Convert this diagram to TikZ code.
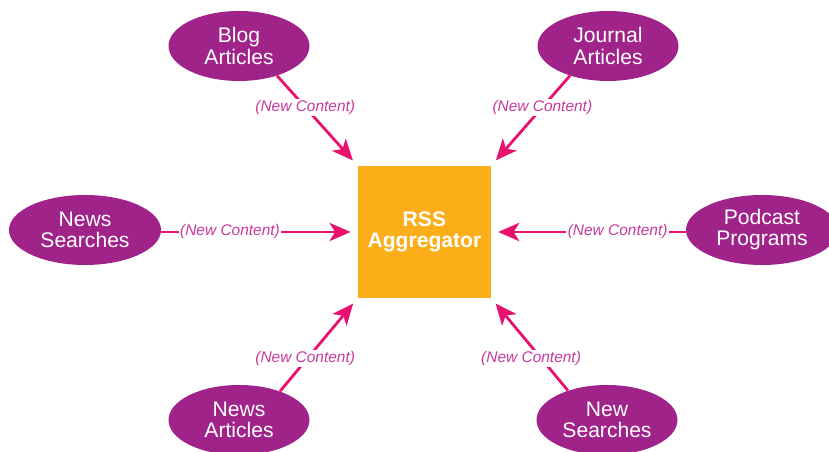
\documentclass[tikz,border=0pt]{standalone}
\usepackage{fontspec}
\setmainfont{Liberation Sans}
\usetikzlibrary{shapes.geometric,arrows.meta}
\definecolor{srcpurple}{HTML}{A0238A}
\definecolor{feedpink}{HTML}{E9106E}
\definecolor{aggorange}{HTML}{FBAE17}
\definecolor{lblpink}{HTML}{C63A9E}
\tikzset{
	source/.style={ellipse,fill=srcpurple,text=white,inner sep=0pt,minimum width=3.525cm,minimum height=1.75cm,align=center,font=\fontsize{15}{15}\selectfont},
	wide/.style={minimum width=3.8cm},
	hub/.style={rectangle,fill=aggorange,text=white,minimum width=3.325cm,minimum height=3.3cm,align=center,font=\fontsize{15}{15}\selectfont\bfseries},
	feed/.style={draw=feedpink,line width=2pt,-{Stealth[length=15pt,width=13pt,inset=4pt]},shorten >=5pt},
	lbl/.style={fill=white,text=lblpink,inner sep=1pt,font=\fontsize{11}{13}\selectfont\itshape}
}
\begin{document}
\begin{tikzpicture}
	\useasboundingbox (0,0) rectangle (20.725,11.3);
	\node[hub] (agg) at (10.61,5.5) {RSS\\Aggregator};
	\node[source] (blog) at (5.975,10.15) {Blog\\Articles};
	\node[source] (journal) at (15.2,10.15) {Journal\\Articles};
	\node[source,wide] (newssearch) at (2.125,5.55) {News\\Searches};
	\node[source,wide] (podcast) at (19.05,5.55) {Podcast\\Programs};
	\node[source] (newsart) at (5.975,0.8) {News\\Articles};
	\node[source] (newsearch) at (15.175,0.8) {New\\Searches};
	\foreach \src/\ang/\tgt/\dx in {blog/-38/north west/0,journal/-142/north east/0,newsart/35/south west/-0.05,newsearch/143/south east/-0.25} {
		\draw[feed] (\src.\ang) -- node[pos=0.35,lbl,xshift=\dx cm]{(New Content)} (agg.\tgt);
	}
	\draw[feed] (newssearch.east |- agg) -- node[pos=0.35,lbl]{(New Content)} (agg.west);
	\draw[feed] (podcast.west |- agg) -- node[pos=0.35,lbl]{(New Content)} (agg.east);
\end{tikzpicture}
\end{document}
